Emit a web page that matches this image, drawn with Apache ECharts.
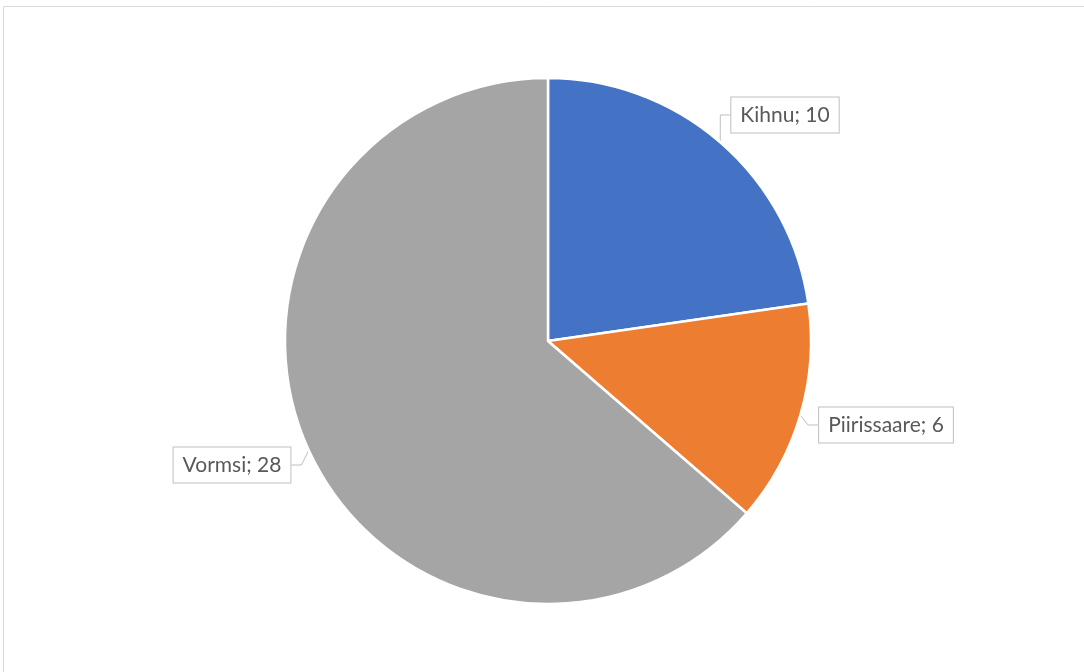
<!DOCTYPE html>
<html>
<head>
<meta charset="utf-8">
<style>
  html, body { margin: 0; padding: 0; background: #fff; }
  #chart { width: 1084px; height: 672px; }
</style>
<script src="https://cdn.jsdelivr.net/npm/echarts@6/dist/echarts.min.js"></script>
</head>
<body>
<div id="chart"></div>
<script>
// Islands and their counts
const islands = ['Kihnu', 'Piirissaare', 'Vormsi'];
const counts = [10, 6, 28];
const colors = ['#4472C4', '#ED7D31', '#A5A5A5'];

// Where each callout box sits (label centre, px)
const labelSpots = [
  { x: 785, y: 115 },
  { x: 886, y: 425 },
  { x: 232, y: 465 }
];

const chart = echarts.init(document.getElementById('chart'), null, { renderer: 'canvas' });

chart.setOption({
  backgroundColor: '#fff',
  animation: false,
  graphic: [{
    type: 'rect',
    shape: { x: 3.5, y: 6.5, width: 1100, height: 700 },
    style: { fill: 'none', stroke: '#d9d9d9', lineWidth: 1 },
    silent: true
  }],
  series: [{
    type: 'pie',
    center: [548, 341],
    radius: [0, 263],
    startAngle: 90,
    clockwise: true,
    data: islands.map((n, i) => ({ name: n, value: counts[i], itemStyle: { color: colors[i] } })),
    itemStyle: { borderColor: '#fff', borderWidth: 2.5 },
    label: {
      show: true,
      position: 'outside',
      formatter: p => p.name + '; ' + p.value,
      fontFamily: 'Lato, "Open Sans", sans-serif',
      fontSize: 21,
      color: '#595959',
      backgroundColor: '#fff',
      borderColor: '#bfbfbf',
      borderWidth: 1,
      padding: [7, 9, 7, 9]
    },
    labelLine: {
      show: true,
      length: 10,
      length2: 10,
      lineStyle: { color: '#bfbfbf', width: 1 }
    },
    labelLayout: function (params) {
      const s = labelSpots[params.dataIndex];
      return { x: s.x, y: s.y, align: 'center', verticalAlign: 'middle' };
    },
    emphasis: { disabled: true }
  }]
});
</script>
</body>
</html>
